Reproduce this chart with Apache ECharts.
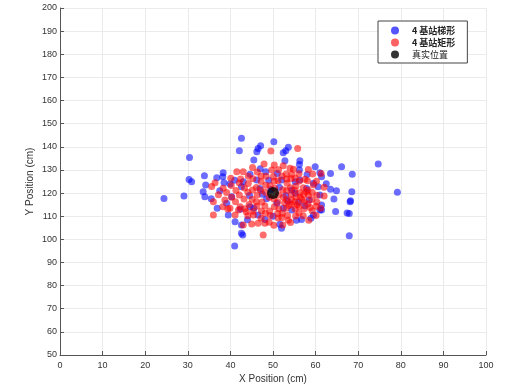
<!DOCTYPE html>
<html>
<head>
<meta charset="utf-8">
<script src="https://cdn.jsdelivr.net/npm/echarts@6/dist/echarts.min.js"></script>
<style>html,body{margin:0;padding:0;background:#fff;}#c{width:510px;height:387px;}</style>
</head>
<body>
<div id="c"></div>
<script>
var seriesNames = ['4 基站梯形', '4 基站矩形', '真实位置'];
var xTicks = [0, 100, 10];
var yTicks = [50, 200, 10];

var bluePoints = [
[24.4,117.7],[29.1,118.7],[30.4,135.4],[30.3,125.9],[30.9,124.9],[33.6,120.6],[34.0,118.4],[33.9,127.5],[34.2,123.5],[36.8,126.6],
[38.2,127.1],[38.3,128.8],[39.9,123.9],[36.9,113.4],[39.1,115.6],[40.3,118.4],[41.1,107.6],[42.6,106.2],[42.9,101.9],[41.0,97.1],
[42.6,143.7],[42.1,138.3],[47.1,140.5],[46.5,139.3],[46.2,137.9],[50.2,142.2],[53.6,139.8],[52.4,137.4],[53.0,138.3],[45.5,134.3],
[52.8,134.0],[56.3,134.0],[56.2,132.4],[59.9,131.4],[61.0,128.8],[56.2,130.0],[44.6,128.1],[48.3,129.2],[66.1,131.4],[63.5,128.5],
[68.6,128.1],[74.7,132.6],[79.2,120.3],[68.5,120.6],[68.2,116.7],[63.5,121.7],[64.9,121.0],[64.3,117.4],[61.4,114.8],[61.4,112.7],
[64.7,112.0],[67.4,111.4],[67.9,111.2],[67.9,101.6],[45.5,113.4],[42.3,113.0],[48.1,108.6],[51.6,106.5],[52.0,104.8],[55.5,108.3],
[56.7,108.6],[58.9,109.1],[59.5,110.5],[61.0,112.7],[42.6,122.7],[46.9,122.0],[54.4,121.3],[55.2,119.9],[57.9,122.0],[61.0,119.2],
[44.6,114.1],[50.9,115.6],[52.4,113.4],[54.4,112.7],[42.6,102.6],[43.0,124.9],[46.2,125.6],[52.0,125.6],[55.2,124.9],[56.3,125.6],
[59.5,124.2],[60.6,122.7],[61.4,127.1],[37.5,121.0],[35.5,117.5],[38.5,124.5],[41.0,125.5],[39.5,110.5],[44.0,108.5],[46.5,110.5],
[48.5,117.5],[49.0,125.5],[51.0,128.5],[53.5,116.5],[57.5,114.5],[58.5,117.0],[47.5,119.5],[49.5,121.5],[53.0,119.0],[56.0,116.0],
[58.0,128.0],[62.5,124.0],[50.0,110.0],[47.0,130.5],[44.5,119.0],[51.5,122.5],[68.1,116.3]
];

var redPoints = [
[41.5,129.2],[43.0,129.2],[40.1,126.4],[36.4,124.5],[35.6,122.8],[49.5,138.2],[55.8,139.3],[47.9,132.6],[50.3,132.1],[52.4,131.8],
[54.0,130.7],[54.8,130.3],[49.7,130.0],[61.3,128.5],[62.0,122.5],[62.0,118.7],[36.0,116.3],[36.0,110.5],[38.7,117.0],[39.4,113.1],
[41.1,110.5],[41.9,112.7],[42.3,114.1],[43.7,111.9],[45.4,110.5],[43.0,106.2],[45.0,106.6],[46.5,107.0],[48.1,106.9],[47.7,101.9],
[49.1,107.4],[53.6,108.3],[59.5,123.5],[58.2,121.3],[57.5,126.0],[39.9,113.4],
[44.2,124.1],[45.3,126.2],[46.1,122.4],[47.2,125.0],[48.4,127.3],[46.3,119.2],[45.1,117.3],[47.4,116.1],[48.2,120.4],[49.3,123.2],
[51.2,125.3],[52.1,127.4],[53.3,124.2],[54.2,126.3],[55.4,123.1],[56.2,125.2],[57.1,122.3],[58.3,119.1],[56.4,118.2],[55.1,116.3],
[54.3,119.4],[53.2,121.1],[52.4,118.3],[51.1,116.2],[50.3,114.1],[49.2,112.3],[48.1,114.4],[47.3,112.2],[46.2,114.3],[44.4,115.1],
[43.2,117.4],[42.1,119.2],[41.3,121.1],[40.2,123.3],[39.1,120.2],[38.3,122.1],[37.2,119.3],[43.3,122.2],[44.1,120.3],[50.2,117.4],
[51.4,113.2],[52.2,111.3],[53.1,113.4],[54.3,115.2],[55.2,113.1],[56.1,111.4],[57.3,113.2],[58.2,115.3],[59.1,117.2],[60.3,119.1],
[59.2,112.4],[57.1,110.2],[55.3,110.1],[53.4,110.3],[51.2,109.2],[49.4,110.3],[47.2,109.1],[52.3,106.2],[54.1,107.3],[58.4,108.2],
[60.1,110.3],[61.2,113.4],[60.3,116.1],[57.4,116.2],[58.1,125.3],[60.2,125.1],[59.3,128.2],[56.1,128.3],[54.4,128.1],[50.1,127.2],
[46.3,129.1],[44.2,127.3],[42.4,126.1],[40.3,118.2],[41.2,116.3],[38.2,114.1],[45.2,121.3],[50.4,122.1],[52.3,121.4],[54.1,122.3],
[56.3,120.1],[57.2,119.4],[49.1,118.2],[51.3,119.3],[53.2,117.1],[55.4,118.3],[48.3,123.4],[47.1,121.2],[45.3,112.1],[44.1,110.2],
[50.2,106.1],[52.1,109.4],[55.2,126.4],[53.1,128.2],[51.3,130.1],[45.2,131.1],[58.3,130.2],[60.1,114.3],[59.2,120.2],[42.1,124.3],
[43.4,113.2],[48.2,111.3],[56.1,114.2],[54.3,117.1],[50.3,125.1],[47.2,127.4],[46.1,116.2],[51.1,111.2],[53.2,126.1],[55.1,121.2],
[53.8,114.6],[56.8,117.2],[58.7,113.8],[55.7,115.1],[57.8,120.6],[52.7,115.8]
];

var truePoint = [[50, 120]];

var chart = echarts.init(document.getElementById('c'), null, {renderer: 'canvas'});
var fontFam = 'Liberation Sans, Arial, sans-serif';
chart.setOption({
  animation: false,
  backgroundColor: '#ffffff',
  grid: {left: 60, right: 24, top: 8, bottom: 32, containLabel: false, outerBoundsMode: 'none'},
  legend: {
    orient: 'vertical',
    left: 378, top: 21,
    padding: [5, 12, 4, 13],
    itemGap: 3,
    itemWidth: 24, itemHeight: 8,
    borderColor: '#444', borderWidth: 1,
    backgroundColor: '#fff',
    textStyle: {fontSize: 9, color: '#222', fontFamily: 'Noto Sans CJK SC, sans-serif'},
    data: [
      {name: seriesNames[0], icon: 'circle', textStyle: {fontWeight: 'bold'}, itemStyle: {color: '#2b2bff'}},
      {name: seriesNames[1], icon: 'circle', textStyle: {fontWeight: 'bold'}, itemStyle: {color: '#ff3b3b'}},
      {name: seriesNames[2], icon: 'circle', itemStyle: {color: '#000'}}
    ]
  },
  xAxis: {
    type: 'value', min: xTicks[0], max: xTicks[1], interval: xTicks[2],
    name: 'X Position (cm)', nameLocation: 'middle', nameGap: 19, nameMoveOverlap: false,
    nameTextStyle: {fontSize: 10, color: '#333', fontFamily: fontFam},
    axisLine: {show: true, lineStyle: {color: '#555', width: 1}},
    axisTick: {show: true, inside: true, length: 4, lineStyle: {color: '#555'}},
    axisLabel: {fontSize: 9, color: '#333', margin: 6, fontFamily: fontFam},
    splitLine: {show: true, lineStyle: {color: '#ebebeb', width: 1}}
  },
  yAxis: {
    type: 'value', min: yTicks[0], max: yTicks[1], interval: yTicks[2],
    name: 'Y Position (cm)', nameLocation: 'middle', nameGap: 25, nameMoveOverlap: false,
    nameTextStyle: {fontSize: 10, color: '#333', fontFamily: fontFam},
    axisLine: {show: true, lineStyle: {color: '#555', width: 1}},
    axisTick: {show: true, inside: true, length: 4, lineStyle: {color: '#555'}},
    axisLabel: {fontSize: 9, color: '#333', margin: 3, fontFamily: fontFam},
    splitLine: {show: true, lineStyle: {color: '#ebebeb', width: 1}}
  },
  series: [
    {name: seriesNames[0], type: 'scatter', data: bluePoints, symbolSize: 7,
     itemStyle: {color: 'rgba(0,0,255,0.72)'}},
    {name: seriesNames[1], type: 'scatter', data: redPoints, symbolSize: 7,
     itemStyle: {color: 'rgba(255,0,0,0.72)'}},
    {name: seriesNames[2], type: 'scatter', data: truePoint, symbolSize: 12, z: 5,
     itemStyle: {color: '#000000'}}
  ]
});
</script>
</body>
</html>
